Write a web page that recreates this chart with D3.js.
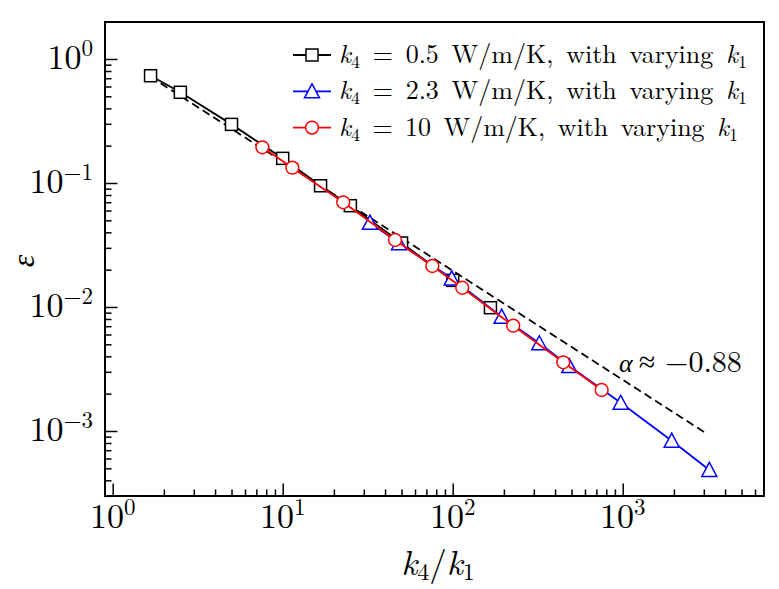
<!DOCTYPE html>
<html><head><meta charset="utf-8">
<script src="https://cdn.jsdelivr.net/npm/d3@7"></script>
<style>body{margin:0;background:#fff}svg{display:block}</style>
</head><body>
<svg id="c" width="779" height="589"></svg>
<script>
// ---- data ----
const sqX = [1.67, 2.5, 5, 10, 16.7, 25, 50, 100, 166.7];
const sqY = [0.733, 0.539, 0.297, 0.158, 0.095, 0.0656, 0.0328, 0.0164, 0.00987];
const triX = [32.6, 48.3, 98.7, 194, 323, 485, 973, 1942, 3232];
const triY = [0.0479, 0.0326, 0.0170, 0.00835, 0.00510, 0.00334, 0.00169, 0.000835, 0.000485];
const circX = [7.59, 11.4, 22.7, 45.8, 75.9, 113.8, 227, 447, 752];
const circY = [0.194, 0.133, 0.0699, 0.0347, 0.0214, 0.0143, 0.00707, 0.00358, 0.00214];
const fitX = [1.66, 3050];
const fitY = [0.721, 0.00097];
const xTicks = [1, 10, 100, 1000];
const xTickExp = ["0", "1", "2", "3"];
const yTicks = [1, 0.1, 0.01, 0.001];
const yTickExp = ["0", "\u22121", "\u22122", "\u22123"];
const legendValues = ["0.5", "2.3", "10"];
const fitLabel = "\u2248 \u22120.88";

// ---- layout ----
const L = 105, R = 764, T = 22, B = 496;
const x = d3.scaleLog().domain([0.901, 6777]).range([L, R]);
const y = d3.scaleLog().domain([0.000299, 1.988]).range([B, T]);
const svg = d3.select("#c");
const FONT = "'Latin Modern Roman', 'Liberation Serif', serif";
const GREEK = "'Liberation Serif', 'Noto Serif', serif";

function minors(lo, hi) {
  const out = [];
  for (let e = Math.floor(Math.log10(lo)); e <= Math.ceil(Math.log10(hi)); e++)
    for (let m = 2; m <= 9; m++) { const v = m * Math.pow(10, e); if (v > lo && v < hi) out.push(v); }
  return out;
}
const [xd0, xd1] = x.domain(), [yd0, yd1] = y.domain();

function styleAxis(g) {
  g.select(".domain").remove();
  g.selectAll("line").attr("stroke", "#000").attr("stroke-width", 1.5);
}
svg.append("g").attr("transform", `translate(0,${B})`)
  .call(d3.axisBottom(x).tickValues(minors(xd0, xd1)).tickSize(-6.5).tickFormat("")).call(styleAxis);
svg.append("g").attr("transform", `translate(0,${B})`)
  .call(d3.axisBottom(x).tickValues(xTicks).tickSize(-12.5).tickFormat("")).call(styleAxis);
svg.append("g").attr("transform", `translate(${L},0)`)
  .call(d3.axisLeft(y).tickValues(minors(yd0, yd1)).tickSize(-6.5).tickFormat("")).call(styleAxis);
svg.append("g").attr("transform", `translate(${L},0)`)
  .call(d3.axisLeft(y).tickValues(yTicks).tickSize(-12.5).tickFormat("")).call(styleAxis);

// tick labels
function powLabel(sel, exp) {
  sel.append("tspan").text("10");
  sel.append("tspan").attr("dy", -13).attr("font-size", 23).text(exp);
}
xTicks.forEach((v, i) => {
  const t = svg.append("text").attr("x", x(v)).attr("y", B + 32).attr("text-anchor", "middle")
    .attr("font-family", FONT).attr("font-size", 34);
  powLabel(t, xTickExp[i]);
});
yTicks.forEach((v, i) => {
  const t = svg.append("text").attr("x", 93).attr("y", y(v) + 10).attr("text-anchor", "end")
    .attr("font-family", FONT).attr("font-size", 34);
  powLabel(t, yTickExp[i]);
});

// axis labels
const xl = svg.append("text").attr("x", 438).attr("y", 575).attr("text-anchor", "middle")
  .attr("font-family", FONT).attr("font-size", 35);
xl.append("tspan").attr("font-style", "italic").text("k");
xl.append("tspan").attr("font-size", 24).attr("dy", 5).text("4");
xl.append("tspan").attr("dy", -5).text("/");
xl.append("tspan").attr("font-style", "italic").text("k");
xl.append("tspan").attr("font-size", 24).attr("dy", 5).text("1");
svg.append("text").attr("transform", `translate(34,${(T + B) / 2 + 2}) rotate(-90)`)
  .attr("text-anchor", "middle").attr("font-family", GREEK).attr("font-style", "italic")
  .attr("font-size", 32).text("\u03b5");

// fit line
const line = d3.line().x(d => x(d[0])).y(d => y(d[1]));
svg.append("path").datum(d3.zip(fitX, fitY)).attr("d", line).attr("fill", "none")
  .attr("stroke", "#000").attr("stroke-width", 1.8).attr("stroke-dasharray", "8,4.5");
const fl = svg.append("text").attr("x", 619).attr("y", 372).attr("font-family", FONT).attr("font-size", 30);
fl.append("tspan").attr("font-family", GREEK).attr("font-style", "italic").attr("font-size", 26).text("\u03b1");
fl.append("tspan").attr("dx", 6).text(fitLabel);

// series
const series = [
  { xs: sqX, ys: sqY, color: "#000000", shape: "square" },
  { xs: triX, ys: triY, color: "#0000ff", shape: "triangle" },
  { xs: circX, ys: circY, color: "#ff0000", shape: "circle" }
];
function marker(g, shape, color, cx, cy) {
  if (shape === "square") {
    g.append("rect").attr("x", cx - 6).attr("y", cy - 6).attr("width", 12).attr("height", 12)
      .attr("fill", "#fff").attr("stroke", color).attr("stroke-width", 1.5);
  } else if (shape === "triangle") {
    g.append("path").attr("d", `M${cx},${cy - 7.5}L${cx + 7.5},${cy + 6.5}L${cx - 7.5},${cy + 6.5}Z`)
      .attr("fill", "#fff").attr("stroke", color).attr("stroke-width", 1.5);
  } else {
    g.append("circle").attr("cx", cx).attr("cy", cy).attr("r", 6.4)
      .attr("fill", "#fff").attr("stroke", color).attr("stroke-width", 1.5);
  }
}
series.forEach(s => {
  const g = svg.append("g");
  g.append("path").datum(d3.zip(s.xs, s.ys)).attr("d", line).attr("fill", "none")
    .attr("stroke", s.color).attr("stroke-width", 1.8);
  s.xs.forEach((v, i) => marker(g, s.shape, s.color, x(v), y(s.ys[i])));
});

// legend
const legW = [408, 408, 399];
series.forEach((s, i) => {
  const cy = 55 + i * 36.3;
  const g = svg.append("g");
  g.append("line").attr("x1", 293).attr("x2", 331).attr("y1", cy).attr("y2", cy)
    .attr("stroke", s.color).attr("stroke-width", 1.8);
  marker(g, s.shape, s.color, 312, cy);
  const t = g.append("text").attr("x", 339).attr("y", cy + 8).attr("font-family", FONT)
    .attr("font-size", 26);
  t.append("tspan").attr("font-style", "italic").text("k");
  t.append("tspan").attr("font-size", 18).attr("dy", 5).text("4");
  t.append("tspan").attr("dy", -5).text(" = " + legendValues[i] + " W/m/K, with varying ");
  t.append("tspan").attr("font-style", "italic").text("k");
  t.append("tspan").attr("font-size", 18).attr("dy", 5).text("1");
  const natural = t.node().getComputedTextLength();
  const extra = (legW[i] - natural) / 6;
  t.attr("word-spacing", Math.max(-3, Math.min(8, extra)));
});

// frame
svg.append("rect").attr("x", L).attr("y", T).attr("width", R - L).attr("height", B - T)
  .attr("fill", "none").attr("stroke", "#000").attr("stroke-width", 2);
</script>
</body></html>
